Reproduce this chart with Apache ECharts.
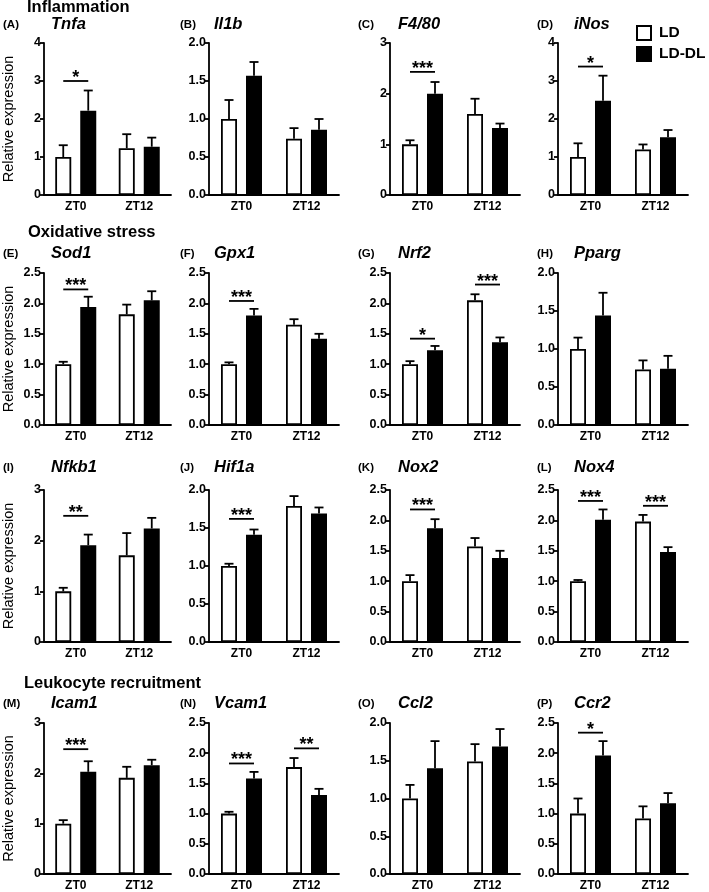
<!DOCTYPE html>
<html><head><meta charset="utf-8">
<script src="https://cdn.jsdelivr.net/npm/echarts@6/dist/echarts.min.js"></script>
<style>html,body{margin:0;padding:0;background:#fff}#c{width:709px;height:892px}</style>
</head><body><div id="c"></div>
<script>
// ---- data ----
const categories = ['ZT0', 'ZT12'];
const seriesNames = ['LD', 'LD-DL'];
const panelLetters = ['A','B','C','D','E','F','G','H','I','J','K','L','M','N','O','P'];
const genes = ['Tnfa','Il1b','F4/80','iNos','Sod1','Gpx1','Nrf2','Pparg','Nfkb1','Hif1a','Nox2','Nox4','Icam1','Vcam1','Ccl2','Ccr2'];
const sections = ['Inflammation', 'Oxidative stress', '', 'Leukocyte recruitment'];
const yMax  = [4, 2, 3, 4,   2.5, 2.5, 2.5, 2,   3, 2, 2.5, 2.5,   3, 2.5, 2, 2.5];
const yStep = [1, 0.5, 1, 1, 0.5, 0.5, 0.5, 0.5, 1, 0.5, 0.5, 0.5, 1, 0.5, 0.5, 0.5];
const ldMean = [[1.00,1.23],[1.00,0.74],[1.00,1.60],[1.00,1.20],
                [1.00,1.82],[1.00,1.65],[1.00,2.05],[1.00,0.73],
                [1.00,1.71],[1.00,1.79],[1.00,1.57],[1.00,1.98],
                [1.00,1.91],[1.00,1.77],[1.00,1.49],[1.00,0.92]];
const ldSem  = [[0.31,0.37],[0.25,0.14],[0.08,0.30],[0.36,0.13],
                [0.04,0.16],[0.03,0.09],[0.05,0.10],[0.15,0.12],
                [0.07,0.44],[0.03,0.13],[0.10,0.14],[0.02,0.11],
                [0.07,0.22],[0.03,0.15],[0.18,0.23],[0.25,0.20]];
const dlMean = [[2.22,1.27],[1.57,0.86],[2.00,1.32],[2.48,1.52],
                [1.94,2.05],[1.80,1.42],[1.23,1.36],[1.44,0.74],
                [1.91,2.24],[1.41,1.69],[1.87,1.38],[2.01,1.48],
                [2.03,2.16],[1.58,1.31],[1.40,1.69],[1.96,1.17]];
const dlSem  = [[0.53,0.24],[0.18,0.14],[0.23,0.09],[0.66,0.19],
                [0.17,0.15],[0.11,0.08],[0.07,0.08],[0.30,0.17],
                [0.21,0.21],[0.07,0.08],[0.15,0.12],[0.17,0.08],
                [0.21,0.11],[0.11,0.10],[0.36,0.23],[0.24,0.17]];
const sigPanel = [0, 2, 3, 4, 5, 6, 6, 8, 9, 10, 11, 11, 12, 13, 13, 15];
const sigGroup = [0, 0, 0, 0, 0, 0, 1, 0, 0, 0, 0, 1, 0, 0, 1, 0];
const sigLevel = [3.0, 2.43, 3.38, 2.23, 2.04, 1.42, 2.31, 2.49, 1.62, 2.18, 2.32, 2.24, 2.48, 1.83, 2.08, 2.34];
const sigText  = ['*','***','*','***','***','*','***','**','***','***','***','***','***','***','**','*'];

// ---- layout ----
const FONT = "'Liberation Sans', Arial, sans-serif";
const colLeft = [41, 209, 390, 558];
const rowTop = [43, 273, 490, 723];
const plotW = 130, plotH = 152;
const LW = 1.8;
const barW = 16, barGapPx = 9, half = (barW + barGapPx) / 2;
const letterX = [3, 180, 358, 537];
const geneX = [51, 214, 398, 574];
const labelY = [26, 255, 469, 705];
const sectionX = [27, 28, 0, 24];
const sectionY = [9, 234, 0, 685];

const chart = echarts.init(document.getElementById('c'), null, {renderer: 'canvas'});
const grid = [], xAxis = [], yAxis = [], series = [], graphic = [];

for (let i = 0; i < 16; i++) {
  const r = Math.floor(i / 4), c = i % 4;
  grid.push({left: colLeft[c], top: rowTop[r], width: plotW, height: plotH});
  xAxis.push({
    type: 'category', gridIndex: i, data: categories,
    axisLine: {lineStyle: {color: '#000', width: LW}},
    axisTick: {alignWithLabel: true, length: 4, lineStyle: {color: '#000', width: LW}},
    axisLabel: {color: '#000', fontSize: 12, fontWeight: 'bold', fontFamily: FONT, margin: 6}
  });
  const step = yStep[i];
  yAxis.push({
    type: 'value', gridIndex: i, min: 0, max: yMax[i], interval: step,
    name: c === 0 ? 'Relative expression' : '',
    nameLocation: 'middle', nameGap: 28,
    nameTextStyle: {color: '#000', fontSize: 14.5, fontFamily: FONT},
    axisLine: {show: true, lineStyle: {color: '#000', width: LW}},
    axisTick: {show: true, length: 4, lineStyle: {color: '#000', width: LW}},
    splitLine: {show: false},
    axisLabel: {color: '#000', fontSize: 12.5, fontWeight: 'bold', fontFamily: FONT, margin: 3,
      formatter: v => step < 1 ? v.toFixed(1) : String(v)}
  });
  series.push({
    name: seriesNames[0], type: 'bar', xAxisIndex: i, yAxisIndex: i,
    data: ldMean[i], barWidth: barW, barGap: (barGapPx / barW * 100) + '%',
    itemStyle: {color: '#fff', borderColor: '#000', borderWidth: LW}, silent: true
  });
  series.push({
    name: seriesNames[1], type: 'bar', xAxisIndex: i, yAxisIndex: i,
    data: dlMean[i], barWidth: barW,
    itemStyle: {color: '#000', borderColor: '#000', borderWidth: LW}, silent: true
  });
  const errData = [];
  for (let g = 0; g < 2; g++) {
    errData.push([g, ldMean[i][g], ldSem[i][g], 0]);
    errData.push([g, dlMean[i][g], dlSem[i][g], 1]);
  }
  series.push({
    type: 'custom', xAxisIndex: i, yAxisIndex: i, data: errData, silent: true, z: 3,
    renderItem: (params, api) => {
      const g = api.value(0), m = api.value(1), e = api.value(2), s = api.value(3);
      const p0 = api.coord([g, m]), p1 = api.coord([g, m + e]);
      const x = p0[0] + (s ? half : -half);
      return {type: 'group', children: [
        {type: 'line', shape: {x1: x, y1: p0[1], x2: x, y2: p1[1]}, style: {stroke: '#000', lineWidth: LW}},
        {type: 'line', shape: {x1: x - 4.5, y1: p1[1], x2: x + 4.5, y2: p1[1]}, style: {stroke: '#000', lineWidth: LW}}
      ]};
    }
  });
  const sData = [], sTxt = [];
  sigPanel.forEach((p, k) => { if (p === i) { sData.push([sigGroup[k], sigLevel[k]]); sTxt.push(sigText[k]); } });
  if (sData.length) {
    series.push({
      type: 'custom', xAxisIndex: i, yAxisIndex: i, data: sData, silent: true, z: 3,
      renderItem: (params, api) => {
        const p = api.coord([api.value(0), api.value(1)]);
        return {type: 'group', children: [
          {type: 'line', shape: {x1: p[0] - half, y1: p[1], x2: p[0] + half, y2: p[1]}, style: {stroke: '#000', lineWidth: LW}},
          {type: 'text', x: p[0], y: p[1] + 6, style: {text: sTxt[params.dataIndex], align: 'center', verticalAlign: 'bottom',
            fill: '#000', font: 'bold 18px ' + FONT}}
        ]};
      }
    });
  }
  graphic.push({type: 'text', left: letterX[c], top: labelY[r] - 7,
    style: {text: '(' + panelLetters[i] + ')', fill: '#000', font: 'bold 11.5px ' + FONT}});
  graphic.push({type: 'text', left: geneX[c], top: labelY[r] - 10,
    style: {text: genes[i], fill: '#000', font: 'italic bold 16.5px ' + FONT}});
}
sections.forEach((s, r) => {
  if (s) graphic.push({type: 'text', left: sectionX[r], top: sectionY[r] - 10,
    style: {text: s, fill: '#000', font: 'bold 16.5px ' + FONT}});
});

chart.setOption({
  animation: false,
  backgroundColor: '#fff',
  textStyle: {fontFamily: FONT},
  legend: {
    data: seriesNames, orient: 'vertical', left: 636, top: 25, padding: 0,
    itemWidth: 14, itemHeight: 14, itemGap: 5,
    icon: 'rect', selectedMode: false,
    textStyle: {color: '#000', fontSize: 15.5, fontWeight: 'bold', fontFamily: FONT, padding: [0, 0, 0, 3]}
  },
  grid, xAxis, yAxis, series, graphic
});
</script></body></html>
